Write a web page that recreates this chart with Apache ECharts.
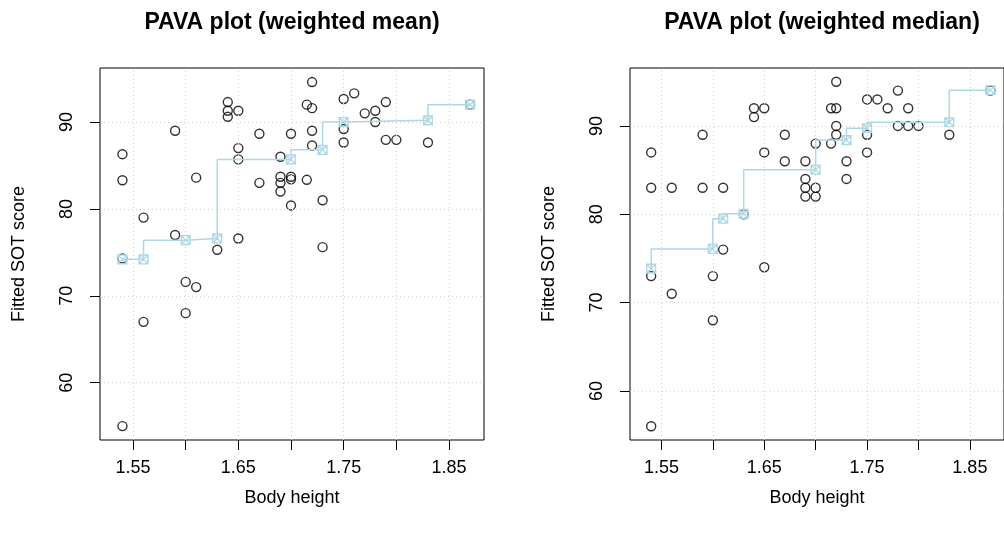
<!DOCTYPE html>
<html>
<head>
<meta charset="utf-8">
<script src="https://cdn.jsdelivr.net/npm/echarts@6/dist/echarts.min.js"></script>
<style>
html,body{margin:0;padding:0;background:#fff;}
#chart{width:1004px;height:536px;}
</style>
</head>
<body>
<div id="chart"></div>
<script>
// ---- data ----
const titles = ['PAVA plot (weighted mean)', 'PAVA plot (weighted median)'];
const xAxisTitle = 'Body height';
const yAxisTitle = 'Fitted SOT score';
const xTickValues = [1.55, 1.60, 1.65, 1.70, 1.75, 1.80, 1.85];
const xLabelValues = [1.55, 1.65, 1.75, 1.85];
const yTickValues = [60, 70, 80, 90];

const meanX = [1.54,1.54,1.54,1.54, 1.56,1.56, 1.59,1.59, 1.60,1.60, 1.61,1.61, 1.63,
  1.64,1.64,1.64, 1.65,1.65,1.65,1.65, 1.67,1.67, 1.69,1.69,1.69,1.69, 1.70,1.70,1.70,1.70,
  1.715,1.715, 1.72,1.72,1.72,1.72, 1.73,1.73, 1.75,1.75,1.75, 1.76, 1.77, 1.78,1.78,
  1.79,1.79, 1.80, 1.83, 1.87];
const meanY = [86.3,83.3,74.3,55.0, 79.0,67.0, 89.0,77.0, 71.6,68.0, 83.6,71.0, 75.3,
  92.3,91.3,90.6, 91.3,87.0,85.7,76.6, 88.65,83.0, 86.0,83.7,83.0,82.0, 88.65,83.7,83.4,80.4,
  92.0,83.35, 94.6,91.6,89.0,87.3, 81.0,75.6, 92.65,89.2,87.65, 93.3, 91.0, 91.3,90.0,
  92.3,87.95, 87.95, 87.65, 92.0];
const pavaMeanX = [1.54, 1.56, 1.60, 1.63, 1.70, 1.73, 1.75, 1.83, 1.87];
const pavaMeanY = [74.2, 74.2, 76.4, 76.6, 85.7, 86.8, 90.0, 90.2, 92.0];

const medianX = [1.54,1.54,1.54,1.54, 1.56,1.56, 1.59,1.59, 1.60,1.60, 1.61,1.61, 1.63,
  1.64,1.64, 1.65,1.65,1.65, 1.67,1.67, 1.69,1.69,1.69,1.69, 1.70,1.70,1.70,
  1.715,1.715, 1.72,1.72,1.72,1.72, 1.73,1.73, 1.75,1.75,1.75, 1.76, 1.77, 1.78,1.78,
  1.79,1.79, 1.80, 1.83, 1.87];
const medianY = [87,83,73,56, 83,71, 89,83, 73,68, 83,76, 80,
  92,91, 92,87,74, 89,86, 86,84,83,82, 88,83,82,
  92,88, 95,92,90,89, 86,84, 93,89,87, 93, 92, 94,90,
  92,90, 90, 89, 94];
const pavaMedianX = [1.54, 1.60, 1.61, 1.63, 1.70, 1.73, 1.75, 1.83, 1.87];
const pavaMedianY = [73.85, 76.08, 79.5, 80.05, 85.05, 88.4, 89.74, 90.42, 94.05];

// ---- layout / style ----
const FONT = '"Liberation Sans", Arial, Helvetica, sans-serif';
const panels = [
  {left: 100, xMin: 1.5187, xMax: 1.8832, yMin: 53.4, yMax: 96.22, xs: meanX, ys: meanY, px: pavaMeanX, py: pavaMeanY},
  {left: 630, xMin: 1.5194, xMax: 1.8832, yMin: 54.44, yMax: 96.56, xs: medianX, ys: medianY, px: pavaMedianX, py: pavaMedianY}
];
const GRID_TOP = 68, GRID_W = 384, GRID_H = 372;
const pavaSymbol = 'path://M0,0L10,0L10,10L0,10Z M0,0L10,10 M10,0L0,10 M10,5A5,5,0,1,1,0,5A5,5,0,1,1,10,5Z';

const zip = (a, b) => a.map((v, i) => [v, b[i]]);

const grid = [], xAxis = [], yAxis = [], series = [], graphic = [];
panels.forEach((p, i) => {
  grid.push({left: p.left, top: GRID_TOP, width: GRID_W, height: GRID_H, show: true,
    borderColor: '#000', borderWidth: 1, backgroundColor: 'transparent', containLabel: false});
  xAxis.push({
    gridIndex: i, type: 'value', min: p.xMin, max: p.xMax,
    name: xAxisTitle, nameLocation: 'middle', nameGap: 49,
    nameTextStyle: {fontFamily: FONT, fontSize: 18, color: '#000'},
    axisLine: {show: false},
    axisTick: {show: true, customValues: xTickValues, length: 10, lineStyle: {color: '#000', width: 1}},
    axisLabel: {customValues: xLabelValues, formatter: v => v.toFixed(2), fontFamily: FONT, fontSize: 18, color: '#000', margin: 19},
    splitLine: {show: false}
  });
  yAxis.push({
    gridIndex: i, type: 'value', min: p.yMin, max: p.yMax,
    name: yAxisTitle, nameLocation: 'middle', nameGap: 72, nameRotate: 90,
    nameTextStyle: {fontFamily: FONT, fontSize: 18, color: '#000'},
    axisLine: {show: false},
    axisTick: {show: true, customValues: yTickValues, length: 10, lineStyle: {color: '#000', width: 1}},
    axisLabel: {customValues: yTickValues, rotate: 90, fontFamily: FONT, fontSize: 18, color: '#000', margin: 24},
    splitLine: {show: false}
  });
  // dotted grid lines
  series.push({
    type: 'scatter', xAxisIndex: i, yAxisIndex: i, data: [], silent: true, z: 1,
    markLine: {
      silent: true, symbol: ['none', 'none'], animation: false,
      label: {show: false},
      lineStyle: {color: '#D3D3D3', width: 1, type: [1, 3]},
      emphasis: {disabled: true},
      data: xTickValues.map(v => ({xAxis: v})).concat(yTickValues.map(v => ({yAxis: v})))
    }
  });
  // observed points
  series.push({
    type: 'scatter', xAxisIndex: i, yAxisIndex: i, z: 3,
    data: zip(p.xs, p.ys), symbol: 'circle', symbolSize: 9,
    itemStyle: {color: 'rgba(0,0,0,0)', borderColor: '#000', borderWidth: 1.4},
    emphasis: {disabled: true}, animation: false
  });
  // PAVA step line
  series.push({
    type: 'line', xAxisIndex: i, yAxisIndex: i, z: 4, step: 'start',
    data: zip(p.px, p.py), symbol: pavaSymbol, symbolSize: 9, showSymbol: true,
    lineStyle: {color: '#ADD8E6', width: 1.5},
    itemStyle: {color: 'rgba(0,0,0,0)', borderColor: '#ADD8E6', borderWidth: 1.2},
    emphasis: {disabled: true}, animation: false
  });
  graphic.push({type: 'text', x: p.left + GRID_W / 2, y: 23,
    style: {text: titles[i], font: 'bold 23px ' + FONT, fill: '#000', textAlign: 'center', textVerticalAlign: 'middle'}});
});

const chart = echarts.init(document.getElementById('chart'), null, {renderer: 'canvas'});
chart.setOption({
  backgroundColor: '#fff',
  animation: false,
  grid, xAxis, yAxis, series, graphic
});
</script>
</body>
</html>
